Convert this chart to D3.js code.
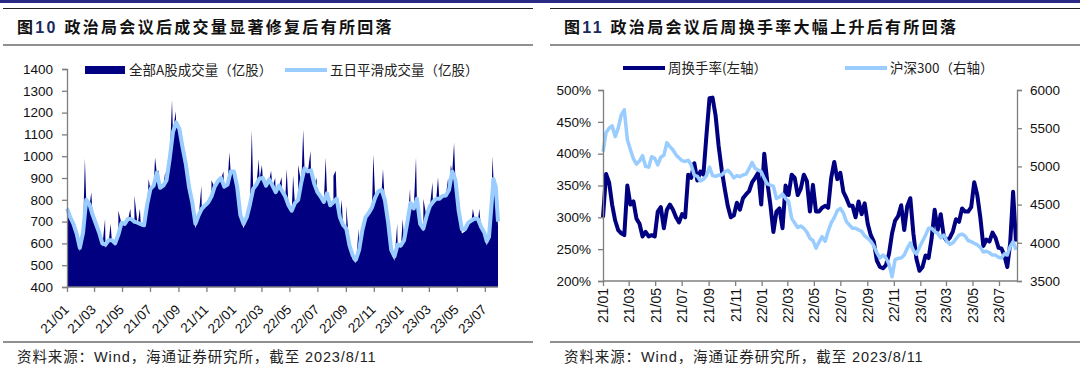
<!DOCTYPE html>
<html><head><meta charset="utf-8">
<script src="https://cdn.jsdelivr.net/npm/d3@7"></script>
<style>body{margin:0;background:#fff;} svg{display:block;}</style>
</head><body>
<svg id="c" width="1080" height="366"></svg>
<script>
// ---------- DATA ----------
const weekStart = "2021-01-01", weekEnd = "2023-08-11"; // weekly (Friday) observations
const xTickLabels = ["21/01","21/03","21/05","21/07","21/09","21/11","22/01","22/03","22/05","22/07","22/09","22/11","23/01","23/03","23/05","23/07"];
const yTicksVol = [400,500,600,700,800,900,1000,1100,1200,1300,1400];
const yTicksTurn = [200,250,300,350,400,450,500];
const yTicksCsi = [3500,4000,4500,5000,5500,6000];

// 全部A股成交量（亿股） - weekly samples
const volWeekly = [760,720,680,630,565,640,790,770,720,680,640,585,580,605,605,590,630,690,680,705,705,690,685,680,675,780,845,860,920,850,860,885,990,1110,1150,1120,1035,960,850,780,670,720,750,770,785,810,855,880,895,855,865,925,925,855,720,670,715,775,845,865,895,895,860,890,860,830,860,835,810,770,745,780,795,875,940,925,930,870,830,810,785,825,770,785,800,710,675,655,575,525,510,560,650,715,735,760,805,835,840,790,690,555,520,585,580,605,690,780,755,800,680,655,720,765,785,800,800,815,815,840,925,885,740,645,655,690,700,710,705,665,640,590,620,760,895,850,680];
// daily spikes of 全部A股成交量
const volSpikeDates = ["2021-02-09","2021-02-23","2021-03-25","2021-04-06","2021-04-23","2021-05-19","2021-05-28","2021-06-09","2021-06-28","2021-07-12","2021-07-20","2021-08-03","2021-08-18","2021-08-26","2021-10-21","2021-11-12","2021-12-08","2021-12-21","2022-02-08","2022-02-23","2022-03-02","2022-03-22","2022-03-31","2022-04-14","2022-04-25","2022-05-09","2022-05-20","2022-05-31","2022-06-16","2022-06-29","2022-07-19","2022-08-05","2022-08-10","2022-08-23","2022-09-02","2022-09-29","2022-10-31","2022-11-21","2022-12-22","2023-01-03","2023-01-19","2023-02-01","2023-02-17","2023-03-09","2023-03-21","2023-04-12","2023-04-18","2023-04-25","2023-06-05","2023-06-19","2023-07-25"];
const volSpikeValues = [990,835,712,690,750,759,820,760,895,994,935,926,1259,1206,865,890,930,1018,1120,986,960,933,900,904,941,911,960,1123,1024,900,994,910,933,800,774,668,1009,941,690,712,850,994,805,880,904,900,960,1062,759,759,1000];
// 五日平滑成交量（亿股）
const volSmooth = [760,720,690,645,580,650,800,780,730,690,650,600,595,615,615,600,640,695,690,712,712,700,695,688,683,780,850,865,925,855,865,890,990,1110,1155,1125,1040,965,860,790,690,729,759,774,788,815,860,885,900,860,870,930,930,860,730,690,720,780,850,870,898,900,865,893,865,835,865,840,815,775,750,785,800,880,945,930,935,875,835,815,790,830,775,790,805,720,685,668,590,545,525,570,660,720,740,765,810,840,845,800,700,570,540,595,590,615,695,785,760,805,690,668,725,770,790,805,805,818,820,845,930,890,750,665,665,695,705,714,712,675,650,610,630,760,895,860,700];

// 周换手率(左轴) %
const turnover = [300,368,355,320,295,280,275,272,350,320,325,298,290,270,277,270,272,270,309,316,283,312,320,312,300,292,305,300,367,362,385,358,372,367,429,487,488,460,412,375,345,318,300,303,323,312,330,336,341,355,362,370,320,400,355,320,277,309,314,283,350,335,367,362,335,345,367,357,309,351,309,309,315,318,315,362,387,360,370,340,330,318,318,300,325,305,322,290,272,262,232,222,220,225,243,275,295,302,319,280,318,330,275,235,216,222,240,236,267,312,280,305,270,263,268,278,297,293,314,309,309,316,355,335,300,255,265,262,276,268,252,251,240,222,260,340,262];
// 沪深300（右轴）
const csi300 = [5192,5440,5500,5530,5390,5500,5673,5740,5350,5220,5100,5030,5070,5140,5000,4990,5127,5105,5020,5120,5145,5310,5260,5215,5150,5110,5075,5065,5080,5018,4887,4870,4810,4830,4880,4990,4880,4870,4887,4887,4930,4950,4910,4850,4880,4866,4887,4900,4970,5050,4975,4952,4930,4843,4770,4756,4740,4580,4600,4640,4580,4540,4320,4260,4200,4220,4190,4140,4059,4030,3930,4010,4080,4020,4150,4260,4330,4420,4450,4390,4277,4233,4190,4190,4170,4150,4090,4059,4020,3960,3870,3800,3840,3800,3720,3556,3780,3797,3800,3840,3928,4000,3900,3850,3940,4020,4100,4190,4190,4146,4124,4065,4100,4020,3980,4000,4050,4100,4115,4090,4030,4015,3993,3975,3940,3880,3890,3870,3840,3840,3810,3800,3855,3840,3950,4015,3906];

// ---------- SETUP ----------
const parse = d3.timeParse("%Y-%m-%d");
const parseTick = d3.timeParse("%y/%m");
const weeks = d3.timeFriday.range(parse(weekStart), d3.timeDay.offset(parse(weekEnd), 1));
const tickDates = xTickLabels.map(parseTick);
const fmtTick = d3.timeFormat("%y/%m");
const NAVY = "#000080", LIGHT = "#99CCFF", AXIS = "#7f7f7f";
const latin = "'Liberation Sans', Arial, 'Noto Sans CJK SC', sans-serif";
const cjk = "'Noto Sans CJK SC', 'Liberation Sans', sans-serif";

const svg = d3.select("#c");

// decorations
svg.append("rect").attr("x",0).attr("y",0).attr("width",1080).attr("height",3).attr("fill","#2a2a86");
function frame(x0, x1, title, num) {
  svg.append("line").attr("x1",x0).attr("x2",x1).attr("y1",8.5).attr("y2",8.5).attr("stroke","#222").attr("stroke-width",1.2);
  svg.append("line").attr("x1",x0).attr("x2",x1).attr("y1",45).attr("y2",45).attr("stroke","#222").attr("stroke-width",1.2);
  svg.append("line").attr("x1",x0).attr("x2",x1).attr("y1",342).attr("y2",342).attr("stroke","#222").attr("stroke-width",1.2);
  const t = svg.append("text").attr("x",x0+14).attr("y",33).attr("font-family",latin).attr("font-weight","bold")
    .attr("font-size",16).attr("letter-spacing","2.3px").attr("fill","#111");
  t.append("tspan").text("图");
  t.append("tspan").attr("fill","#1a2a5e").text(num);
  t.append("tspan").text(" " + title);
  svg.append("text").attr("x",x0+14).attr("y",362).attr("font-family",latin).attr("font-size",14.5)
    .attr("letter-spacing","0.9px").attr("fill","#222").text("资料来源：Wind，海通证券研究所，截至 2023/8/11");
}
frame(3, 533, "政治局会议后成交量显著修复后有所回落", "10");
frame(550, 1080, "政治局会议后周换手率大幅上升后有所回落", "11");

function styleAxis(g, fs) {
  g.select(".domain").attr("stroke", AXIS).attr("stroke-width",1.3);
  g.selectAll(".tick line").attr("stroke", AXIS).attr("stroke-width",1.3);
  g.selectAll("text").attr("font-family", latin).attr("font-size", fs || 13.5).attr("fill","#111");
}

// ---------- LEFT CHART ----------
const tEnd = parse(weekEnd);
const xL = d3.scaleTime().domain([parse("2021-01-01"), parse("2023-07-01"), tEnd]).range([67, 484.8, 498]);
const yL = d3.scaleLinear().domain([400, 1400]).range([287, 69]);

const volData = weeks.map((d,i)=>({date:d, v:volWeekly[i]}))
  .concat(volSpikeDates.map((s,i)=>({date:parse(s), v:volSpikeValues[i]})))
  .sort((a,b)=>a.date-b.date);
const smoothData = weeks.map((d,i)=>({date:d, v:volSmooth[i]}));

svg.append("path").datum(volData)
  .attr("d", d3.area().x(d=>xL(d.date)).y0(yL(400)).y1(d=>yL(d.v)))
  .attr("fill", NAVY);
svg.append("path").datum(smoothData)
  .attr("d", d3.line().x(d=>xL(d.date)).y(d=>yL(d.v)))
  .attr("fill","none").attr("stroke", LIGHT).attr("stroke-width",4).attr("stroke-linejoin","round");

const gyL = svg.append("g").attr("transform","translate(67,0)")
  .call(d3.axisLeft(yL).tickValues(yTicksVol).tickSize(5).tickPadding(9).tickFormat(d3.format("d")));
styleAxis(gyL);
const gxL = svg.append("g").attr("transform","translate(0,287)")
  .call(d3.axisBottom(xL).tickValues(tickDates).tickSize(5).tickFormat(fmtTick));
styleAxis(gxL);
gxL.select(".domain").attr("d", `M67,0H498`);
gxL.selectAll(".tick text").attr("y",0).attr("dy","0.35em").attr("x",0)
  .attr("text-anchor","end").attr("transform","translate(-1,20) rotate(-45)");

// legend left
svg.append("rect").attr("x",85).attr("y",66).attr("width",40).attr("height",8).attr("fill",NAVY);
svg.append("text").attr("x",129).attr("y",70).attr("dy","0.35em").attr("font-family",cjk).attr("font-size",13.5).attr("fill","#222").text("全部A股成交量（亿股）");
svg.append("line").attr("x1",285).attr("x2",327).attr("y1",70).attr("y2",70).attr("stroke",LIGHT).attr("stroke-width",4);
svg.append("text").attr("x",330).attr("y",70).attr("dy","0.35em").attr("font-family",cjk).attr("font-size",13.5).attr("fill","#222").text("五日平滑成交量（亿股）");

// ---------- RIGHT CHART ----------
const xR = d3.scaleTime().domain([parse("2021-01-01"), parse("2023-07-01"), tEnd]).range([603, 999, 1016]);
const yR1 = d3.scaleLinear().domain([200, 500]).range([281, 90]);
const yR2 = d3.scaleLinear().domain([3500, 6000]).range([281, 90]);

const turnData = weeks.map((d,i)=>({date:d, v:turnover[i]}));
const csiData = weeks.map((d,i)=>({date:d, v:csi300[i]}));

svg.append("path").datum(turnData)
  .attr("d", d3.line().x(d=>xR(d.date)).y(d=>yR1(d.v)))
  .attr("fill","none").attr("stroke", NAVY).attr("stroke-width",4).attr("stroke-linejoin","round");
svg.append("path").datum(csiData)
  .attr("d", d3.line().x(d=>xR(d.date)).y(d=>yR2(d.v)))
  .attr("fill","none").attr("stroke", LIGHT).attr("stroke-width",3.5).attr("stroke-linejoin","round");

const gyR1 = svg.append("g").attr("transform","translate(603,0)")
  .call(d3.axisLeft(yR1).tickValues(yTicksTurn).tickSize(5).tickPadding(7).tickFormat(d=>d+"%"));
styleAxis(gyR1);
const gyR2 = svg.append("g").attr("transform","translate(1017,0)")
  .call(d3.axisRight(yR2).tickValues(yTicksCsi).tickSize(5).tickPadding(8).tickFormat(d3.format("d")));
styleAxis(gyR2);
const gxR = svg.append("g").attr("transform","translate(0,281)")
  .call(d3.axisBottom(xR).tickValues(tickDates).tickSize(5).tickFormat(fmtTick));
styleAxis(gxR, 14);
gxR.select(".domain").attr("d", `M603,0H1017`);
gxR.selectAll(".tick text").attr("y",0).attr("x",0).attr("dy","0.35em")
  .attr("text-anchor","end").attr("transform","translate(0,7) rotate(-90)");

// legend right
svg.append("line").attr("x1",623).attr("x2",665).attr("y1",68).attr("y2",68).attr("stroke",NAVY).attr("stroke-width",4);
svg.append("text").attr("x",668).attr("y",68).attr("dy","0.35em").attr("font-family",cjk).attr("font-size",13.5).attr("fill","#222").text("周换手率(左轴）");
svg.append("line").attr("x1",845).attr("x2",887).attr("y1",68).attr("y2",68).attr("stroke",LIGHT).attr("stroke-width",4);
svg.append("text").attr("x",890).attr("y",68).attr("dy","0.35em").attr("font-family",cjk).attr("font-size",13.5).attr("fill","#222").text("沪深300（右轴）");
</script>
</body></html>
